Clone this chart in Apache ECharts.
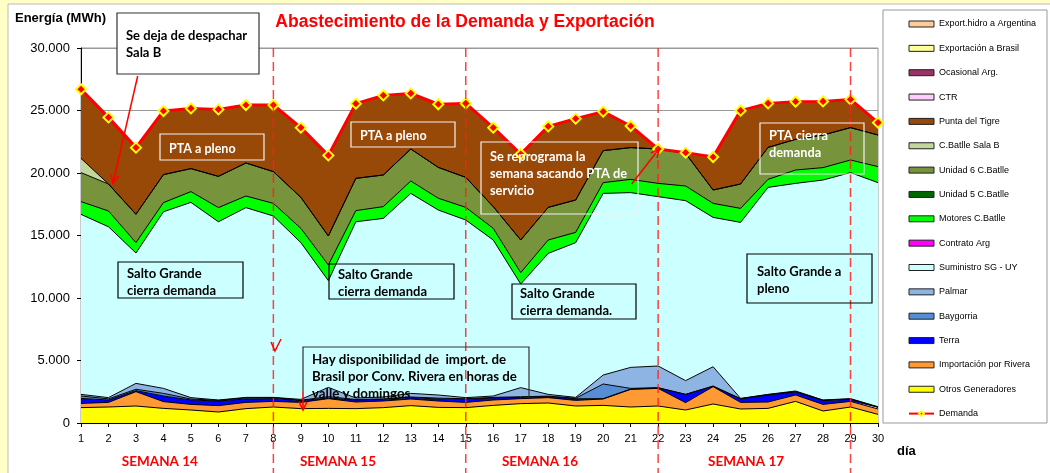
<!DOCTYPE html>
<html>
<head>
<meta charset="utf-8">
<script src="https://cdn.jsdelivr.net/npm/echarts@6/dist/echarts.min.js"></script>
<style>
  html, body { margin: 0; padding: 0; background: #FFFFC6; }
  #chart { width: 1050px; height: 473px; }
</style>
</head>
<body>
<div id="chart"></div>
<script>
// dias del mes
var dias = [];
for (var d = 1; d <= 30; d++) dias.push(String(d));

// Energia diaria por fuente (MWh)
var otros      = [1230,1280,1360,1170,1040,880,1150,1280,1150,1170,1150,1230,1390,1250,1230,1410,1550,1600,1360,1410,1280,1360,1040,1520,1120,1170,1730,960,1280,690];
var rivera     = [340,370,1150,540,450,510,500,450,500,780,530,530,530,510,420,430,400,430,450,510,1410,1410,590,1390,530,510,510,530,450,430];
var terra      = [400,190,80,450,350,370,270,220,140,50,160,130,110,160,240,160,100,80,130,30,30,30,660,20,270,560,240,300,160,130];
var baygorria  = [190,90,110,210,80,50,80,80,30,110,40,40,50,70,50,50,50,40,40,1170,50,30,0,30,30,30,40,30,30,20];
var palmar     = [130,100,470,400,110,30,50,20,70,740,120,150,290,250,90,110,730,140,70,720,1680,1730,1100,1540,20,20,40,20,30,30];
var suministro = [14400,13670,10430,14130,15620,14260,15180,14510,12540,8540,14100,14290,16000,14800,14210,12480,8290,11280,12380,14530,13980,13550,14400,11950,14080,16560,16610,17600,18080,17930];
var motores    = [1020,1260,830,730,860,1130,930,1010,1140,1250,890,940,990,940,1010,930,910,1070,820,860,1060,1060,1170,1120,1120,640,1070,990,1010,1280];
var unidad6    = [2320,2160,2270,2240,1840,2500,2640,2540,2480,2320,2580,2530,2560,2470,2400,1740,2610,2610,2590,2560,2540,2750,2610,1070,1950,2560,2450,2610,2590,2530];
var salaB      = [1140,0,0,0,0,0,0,0,0,0,0,0,0,0,0,0,0,0,0,0,0,0,0,0,0,0,0,0,0,0];
var pta        = [5530,5330,5330,5090,4820,5360,4640,5330,5580,6450,5980,6370,4450,5050,5920,6320,6880,6480,6510,3120,1730,0,60,2640,5870,3520,3020,2690,2260,990];
var ceros      = [0,0,0,0,0,0,0,0,0,0,0,0,0,0,0,0,0,0,0,0,0,0,0,0,0,0,0,0,0,0];
var demanda    = [26700,24450,22030,24960,25170,25090,25440,25440,23630,21410,25550,26210,26370,25500,25570,23630,21520,23730,24350,24910,23760,21920,21630,21280,24990,25570,25710,25730,25890,24030];

var semanas = ['SEMANA 14', 'SEMANA 15', 'SEMANA 16', 'SEMANA 17'];
var posSemana = [3.87, 10.35, 17.7, 25.2];   // dia (1..30) donde va la etiqueta
var cortesSemana = [8, 15, 22, 29];

var chart = echarts.init(document.getElementById('chart'));

function area(nombre, datos, color, oculto) {
  return {
    name: nombre,
    type: 'line',
    stack: 'total',
    data: datos,
    showSymbol: false,
    symbol: 'none',
    color: color,
    lineStyle: { color: '#000', width: oculto ? 0 : 1, opacity: oculto ? 0 : 1 },
    areaStyle: { color: color, opacity: 1 },
    emphasis: { disabled: true },
    silent: true
  };
}

// orden de apilado: de abajo hacia arriba
var series = [
  area('Otros Generadores', otros, '#FFFF00'),
  area('Importación por Rivera', rivera, '#FF9933'),
  area('Terra', terra, '#0000FF'),
  area('Baygorria', baygorria, '#558ED5'),
  area('Palmar', palmar, '#8EB4E3'),
  area('Suministro SG - UY', suministro, '#CCFFFF'),
  area('Contrato Arg', ceros, '#FF00FF', true),
  area('Motores C.Batlle', motores, '#00FF00'),
  area('Unidad 5 C.Batlle', ceros, '#006600', true),
  area('Unidad 6 C.Batlle', unidad6, '#77933C'),
  area('C.Batlle Sala B', salaB, '#C3D69B'),
  area('Punta del Tigre', pta, '#984807'),
  area('CTR', ceros, '#FFCCFF', true),
  area('Ocasional Arg.', ceros, '#993366', true),
  area('Exportación a Brasil', ceros, '#FFFF99', true),
  area('Export.hidro a Argentina', ceros, '#FFCC99', true),
  {
    name: 'Demanda',
    type: 'line',
    data: demanda,
    color: '#FF0000',
    lineStyle: { color: '#FF0000', width: 3 },
    symbol: 'diamond',
    symbolSize: 10,
    itemStyle: { color: '#FF0000', borderColor: '#FFFF00', borderWidth: 2 },
    z: 10,
    silent: true
  }
];

var ordenLeyenda = ['Export.hidro a Argentina', 'Exportación a Brasil', 'Ocasional Arg.', 'CTR',
  'Punta del Tigre', 'C.Batlle Sala B', 'Unidad 6 C.Batlle', 'Unidad 5 C.Batlle', 'Motores C.Batlle',
  'Contrato Arg', 'Suministro SG - UY', 'Palmar', 'Baygorria', 'Terra', 'Importación por Rivera',
  'Otros Generadores'];
var leyenda = ordenLeyenda.map(function (n) {
  return { name: n, icon: 'rect', itemStyle: { borderColor: '#222', borderWidth: 1 } };
});
leyenda.push({ name: 'Demanda' });

var option = {
  backgroundColor: '#FFFFC6',
  animation: false,
  grid: { left: 81, right: 172, top: 48, bottom: 50, show: true, borderColor: '#999', borderWidth: 1, backgroundColor: 'transparent' },
  legend: {
    orient: 'vertical',
    left: 903,
    top: 13,
    itemWidth: 25,
    itemHeight: 6,
    itemGap: 12.35,
    selectedMode: false,
    data: leyenda,
    textStyle: { fontFamily: 'Liberation Sans', fontSize: 9, color: '#000', lineHeight: 12 }
  },
  xAxis: {
    type: 'category',
    data: dias,
    boundaryGap: false,
    axisLine: { lineStyle: { color: '#000', width: 1 } },
    axisTick: { show: true, length: 4, lineStyle: { color: '#000' } },
    axisLabel: { fontFamily: 'Liberation Sans', fontSize: 11, color: '#000', margin: 10, interval: 0 }
  },
  yAxis: {
    type: 'value',
    min: 0,
    max: 30000,
    interval: 5000,
    axisLine: { show: true, lineStyle: { color: '#000', width: 1 } },
    axisTick: { show: true, length: 4, lineStyle: { color: '#000' } },
    splitLine: { lineStyle: { color: '#999', width: 1 } },
    axisLabel: {
      fontFamily: 'Liberation Sans', fontSize: 13, color: '#000', margin: 11,
      formatter: function (v) { return String(v).replace(/\B(?=(\d{3})+(?!\d))/g, '.'); }
    }
  },
  series: series
};

chart.setOption(option);

// ---- anotaciones ----
function flecha(x1, y1, x2, y2, color) {
  var ang = Math.atan2(y2 - y1, x2 - x1);
  var L = 9, a = 0.45;
  return [
    { type: 'line', z: 60, shape: { x1: x1, y1: y1, x2: x2, y2: y2 }, style: { stroke: color, lineWidth: 1.5 } },
    { type: 'polyline', z: 60, shape: { points: [
        [x2 - L * Math.cos(ang - a), y2 - L * Math.sin(ang - a)], [x2, y2],
        [x2 - L * Math.cos(ang + a), y2 - L * Math.sin(ang + a)]] },
      style: { stroke: color, lineWidth: 1.5, fill: null } }
  ];
}

function caja(x, y, w, h, borde, relleno) {
  return { type: 'rect', z: 50, shape: { x: x, y: y, width: w, height: h },
    style: { fill: relleno || 'transparent', stroke: borde, lineWidth: 1.2 } };
}

function texto(x, y, t, color, size) {
  return { type: 'text', z: 55, x: x, y: y,
    style: { text: t, fill: color, font: 'bold ' + (size || 12) + 'px Lato', lineHeight: 17, verticalAlign: 'top' } };
}

var g = [];
g.push({ type: 'rect', z: -100, shape: { x: 8, y: 4, width: 1050, height: 480 }, style: { fill: '#fff', stroke: '#bbb', lineWidth: 1 } });
g.push({ type: 'rect', z: -50, shape: { x: 883, y: 10, width: 164, height: 413 }, style: { fill: '#fff', stroke: '#999', lineWidth: 1 } });

g.push({ type: 'text', z: 50, x: 465, y: 22, style: { text: 'Abastecimiento de la Demanda y Exportación', fill: '#FF0000', font: 'bold 17.5px "Liberation Sans"', align: 'center', verticalAlign: 'middle' } });
g.push({ type: 'text', z: 50, x: 15, y: 18, style: { text: 'Energía (MWh)', fill: '#000', font: 'bold 13px "Liberation Sans"', verticalAlign: 'middle' } });
g.push({ type: 'text', z: 50, x: 897, y: 451, style: { text: 'día', fill: '#000', font: 'bold 13px "Liberation Sans"', verticalAlign: 'middle' } });

// lineas de semana y etiquetas
var p0 = chart.convertToPixel({ xAxisIndex: 0 }, 0);
var p29 = chart.convertToPixel({ xAxisIndex: 0 }, 29);
var paso = (p29 - p0) / 29;
cortesSemana.forEach(function (dd) {
  var x = p0 + (dd - 1) * paso;
  g.push({ type: 'line', z: 40, shape: { x1: x, y1: 48, x2: x, y2: 473 },
    style: { stroke: '#FF2020', lineWidth: 1.5, lineDash: [9, 5], opacity: 0.85 } });
});
semanas.forEach(function (s, i) {
  g.push({ type: 'text', z: 50, x: p0 + (posSemana[i] - 1) * paso, y: 462,
    style: { text: s, fill: '#FF0000', font: 'bold 13.5px Lato', align: 'center', verticalAlign: 'middle' } });
});

// cajas de texto
g.push(caja(117, 13, 142, 61, '#333', '#fff'));
g.push(texto(126, 27, 'Se deja de despachar\nSala B', '#000', 13));

g.push(caja(160, 134, 104, 26, '#f2f2f2'));
g.push(texto(169, 140, 'PTA a pleno', '#fff', 12.5));
g.push(caja(351, 122, 104, 25, '#f2f2f2'));
g.push(texto(360, 127, 'PTA a pleno', '#fff', 12.5));
g.push(caja(481, 142, 157, 72, '#f2f2f2'));
g.push(texto(490, 148, 'Se reprograma la\nsemana sacando PTA de\nservicio', '#fff', 12.8));
g.push(caja(760, 123, 104, 51, '#f2f2f2'));
g.push(texto(769, 127, 'PTA cierra\ndemanda', '#fff', 12.8));

g.push(caja(118, 262, 125, 36, '#000'));
g.push(texto(127, 265, 'Salto Grande\ncierra demanda', '#000', 13));
g.push(caja(329, 264, 125, 35, '#000'));
g.push(texto(338, 266, 'Salto Grande\ncierra demanda', '#000', 13));
g.push(caja(512, 284, 124, 35, '#000'));
g.push(texto(520, 285, 'Salto Grande\ncierra demanda.', '#000', 13));
g.push(caja(747, 254, 125, 49, '#000'));
g.push(texto(757, 263, 'Salto Grande a\npleno', '#000', 13));

g.push({ type: 'polyline', z: 50, shape: { points: [[303, 392], [303, 347], [529, 347], [529, 397]] },
  style: { stroke: '#333', lineWidth: 1.2, fill: null } });
g.push(texto(312, 351, 'Hay disponibilidad de  import. de\nBrasil por Conv. Rivera en horas de\nvalle y domingos', '#000', 13.3));

// flechas
g = g.concat(flecha(137.7, 76, 113, 183, '#FF0000'));
g = g.concat(flecha(631.7, 184, 659, 149, '#FF0000'));
g = g.concat(flecha(303, 392, 303, 410, '#FF0000'));
g.push({ type: 'polyline', z: 60, shape: { points: [[271, 342], [275, 351], [281, 339]] },
  style: { stroke: '#FF0000', lineWidth: 1.5, fill: null } });

chart.setOption({ graphic: g });
</script>
</body>
</html>
